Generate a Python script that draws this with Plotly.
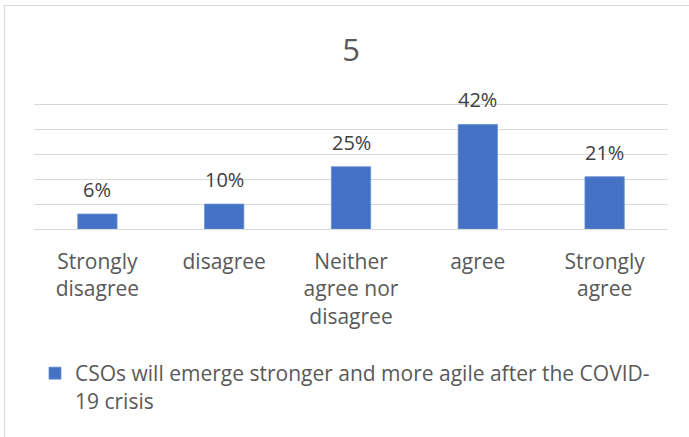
import plotly.graph_objects as go

categories = ["Strongly<br>disagree", "disagree", "Neither<br>agree nor<br>disagree", "agree", "Strongly<br>agree"]
values = [0.06, 0.10, 0.25, 0.42, 0.21]
labels = ["6%", "10%", "25%", "42%", "21%"]
series_name = "CSOs will emerge stronger and more agile after the COVID-<br>19 crisis"
title_text = "5"
grid_vals = [0, 0.1, 0.2, 0.3, 0.4, 0.5]

W, H = 689, 437
YMAX = 0.506
base_px, top_px = 229, 104.5
ph = (base_px - top_px) * YMAX / 0.5
L, R, B = 34, 21, H - base_px
T = H - B - ph
pw = W - L - R

FONT = "Open Sans"
GRAY = "#595959"

fig = go.Figure()
fig.add_trace(go.Bar(
    x=categories, y=values, name=series_name,
    marker=dict(color="#4472C4", line=dict(color="#6a8fd4", width=0.8)),
    width=0.31, showlegend=True,
))

for c, v, t in zip(categories, values, labels):
    fig.add_annotation(x=c, y=v, text=t, showarrow=False, xref="x", yref="y",
                       yanchor="bottom", yshift=9,
                       font=dict(family=FONT, size=20, color="#404040"))

# chart frame
fig.add_shape(type="rect", xref="paper", yref="paper",
              x0=(4.5 - L) / pw, x1=1.2, y0=-3, y1=(H - B - 5.5) / ph,
              line=dict(color="#d9d9d9", width=1.2), fillcolor="rgba(0,0,0,0)", layer="below")

fig.update_layout(
    width=W, height=H,
    margin=dict(l=L, r=R, t=T, b=B, pad=0, autoexpand=False),
    paper_bgcolor="white", plot_bgcolor="white",
    title=dict(text=title_text, x=0.5, xref="paper", xanchor="center",
               y=1 - 50 / H, yref="container", yanchor="middle",
               font=dict(family=FONT, size=31, color=GRAY)),
    font=dict(family=FONT, color=GRAY),
    showlegend=True,
    legend=dict(orientation="v", x=(35 - L) / pw, xanchor="left",
                y=(H - B - 353) / ph, yanchor="top", valign="top",
                font=dict(family=FONT, size=21, color=GRAY),
                itemwidth=30, bgcolor="rgba(0,0,0,0)", tracegroupgap=0),
    xaxis=dict(showgrid=False, showline=False, ticks="", zeroline=False,
               tickfont=dict(family=FONT, size=21, color=GRAY),
               ticklabelstandoff=18, fixedrange=True),
    yaxis=dict(range=[0, YMAX], tickvals=grid_vals, showgrid=True,
               gridcolor="#d9d9d9", gridwidth=1.3, zeroline=True, zerolinecolor="#d9d9d9",
               zerolinewidth=1.3, showticklabels=False, ticks="", showline=False, fixedrange=True),
)

fig.write_html("out.html", config={"displayModeBar": False},
               post_script="document.body.style.margin='0';document.body.style.overflow='hidden';")
